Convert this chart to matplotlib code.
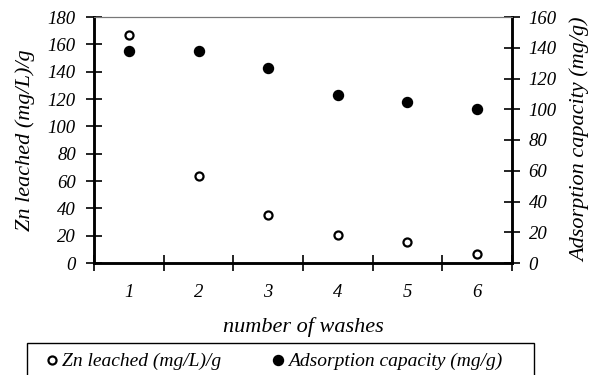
import matplotlib
matplotlib.use("Agg")
import matplotlib.pyplot as plt
from matplotlib.patches import Rectangle
import numpy as np

washes = [1, 2, 3, 4, 5, 6]
zn_leached = [167, 64, 35, 20.5, 15.5, 6.5]
adsorption = [138, 138, 127, 109, 105, 100]

plt.rcParams['font.family'] = 'Liberation Serif'
plt.rcParams['font.style'] = 'italic'

fig = plt.figure(figsize=(5.89, 3.75), dpi=100)
ax = fig.add_axes([94/589, 1-263/375, (512-94)/589, (263-17)/375])
ax2 = ax.twinx()

p1, = ax.plot(washes, zn_leached, 'o', mfc='white', mec='black', mew=1.6, ms=5.8,
              linestyle='none', label='Zn leached (mg/L)/g', zorder=3)
p2, = ax2.plot(washes, adsorption, 'o', color='black', ms=7.2,
               linestyle='none', label='Adsorption capacity (mg/g)')

ax.set_xlim(0.5, 6.5)
ax.set_ylim(0, 180)
ax2.set_ylim(0, 160)
ax.set_yticks(np.arange(0, 181, 20))
ax2.set_yticks(np.arange(0, 161, 20))

# category boundaries as major ticks, labels on minor ticks
ax.set_xticks(np.arange(0.5, 7, 1))
ax.set_xticklabels([])
ax.set_xticks(washes, minor=True)
ax.set_xticklabels([str(w) for w in washes], minor=True)
ax.tick_params(axis='x', which='minor', length=0, pad=15, labelsize=13.5)
ax.tick_params(axis='x', which='major', direction='inout', length=12, width=1.2)
ax.tick_params(axis='y', direction='inout', length=12, width=1.2, pad=7, labelsize=13.5)
ax2.tick_params(axis='y', direction='inout', length=12, width=1.2, pad=6, labelsize=13.5)

for a in (ax, ax2):
    for s in ('left', 'bottom', 'right'):
        a.spines[s].set_linewidth(1.8)
    a.spines['top'].set_linewidth(0.8)
    a.spines['top'].set_color('#777777')

ax.set_xlabel('number of washes', fontsize=16, labelpad=12)
ax.set_ylabel('Zn leached (mg/L)/g', fontsize=16, labelpad=9)
ax2.set_ylabel('Adsorption capacity (mg/g)', fontsize=16, labelpad=10)

# legend box runs off the bottom edge, as in the original
fig.legend([p1, p2], ['Zn leached (mg/L)/g', 'Adsorption capacity (mg/g)'],
           loc='upper left', ncol=2, bbox_to_anchor=(27/589, 1-343/375),
           fontsize=14, frameon=False, columnspacing=2.13,
           handlelength=1.6, handletextpad=-0.3, borderpad=0.5, borderaxespad=0)
fig.patches.append(Rectangle((27/589, -0.05), (534-27)/589, 1-343/375+0.05,
                             transform=fig.transFigure, fill=False,
                             edgecolor='black', lw=1.0))

fig.savefig('out.png', dpi=100)
